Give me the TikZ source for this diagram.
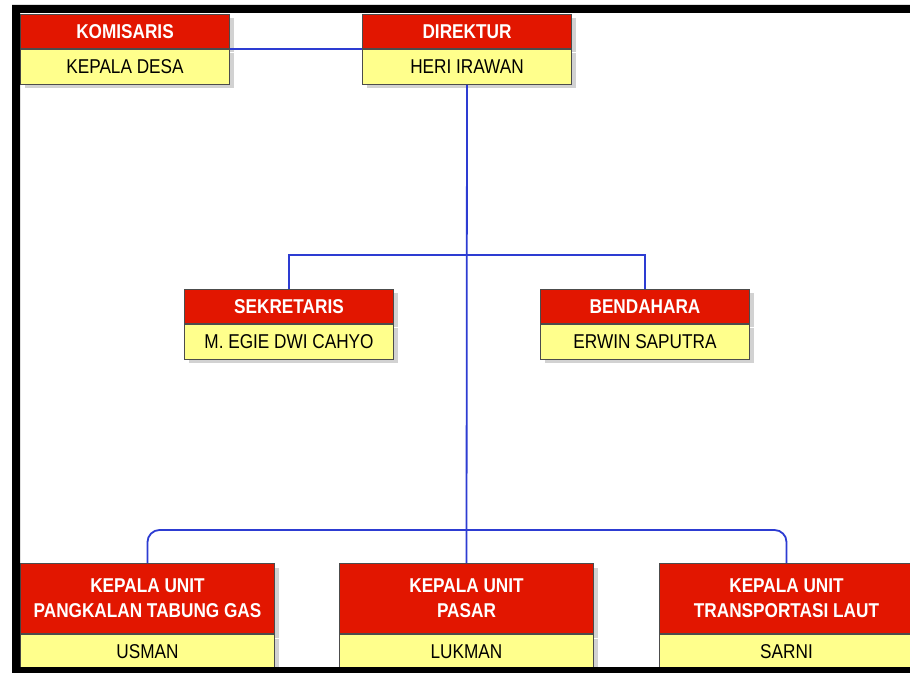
\documentclass[tikz,border=0pt]{standalone}
\usepackage{fontspec}
\setmainfont{Liberation Sans}[FakeStretch=0.86]
\usetikzlibrary{positioning,shadows}
\definecolor{merah}{RGB}{226,22,0}
\definecolor{kuning}{RGB}{255,255,140}
\definecolor{biru}{RGB}{45,60,210}
\tikzset{jabatan/.style={draw=black!70, line width=0.5pt, fill=merah, text=white, align=center,
    font=\fontsize{10}{12.5}\selectfont\bfseries, inner sep=0pt, minimum width=104.5pt,
    minimum height=17pt, anchor=north west,
    drop shadow={shadow xshift=2pt, shadow yshift=-2pt, fill=black!35}},
  nama/.style={jabatan, fill=kuning, text=black, font=\fontsize{10}{12}\selectfont, minimum height=17.5pt},
  unit/.style={jabatan, minimum width=127pt, minimum height=35pt},
  namaunit/.style={nama, minimum width=127pt, minimum height=17pt},
  garis/.style={draw=biru, line width=0.9pt}}

\begin{document}
\begin{tikzpicture}[x=0.5pt, y=-0.5pt]
\useasboundingbox (0,0) rectangle (910,673);
\fill[white] (20,13) rectangle (916,667);

\node[jabatan] (kom) at (20,14) {KOMISARIS};
\node[nama, below=0pt of kom] (desa) {KEPALA DESA};
\node[jabatan] (dir) at (362,14) {DIREKTUR};
\node[nama, below=0pt of dir] (heri) {HERI IRAWAN};

\node[jabatan] (sek) at (184,289) {SEKRETARIS};
\node[nama, below=0pt of sek] (egie) {M. EGIE DWI CAHYO};
\node[jabatan] (ben) at (540,289) {BENDAHARA};
\node[nama, below=0pt of ben] (erwin) {ERWIN SAPUTRA};

\node[unit] (gas) at (20,563) {KEPALA UNIT\\PANGKALAN TABUNG GAS};
\node[namaunit, below=0pt of gas] (usman) {USMAN};
\node[unit] (pasar) at (339,563) {KEPALA UNIT\\PASAR};
\node[namaunit, below=0pt of pasar] (lukman) {LUKMAN};
\node[unit] (laut) at (659,563) {KEPALA UNIT\\TRANSPORTASI LAUT};
\node[namaunit, below=0pt of laut] (sarni) {SARNI};

\coordinate (cabangA) at (466,255);
\coordinate (cabangB) at (466,530);
\draw[garis] (kom.south east) -- (dir.south west);
\draw[garis] (heri.south) -- (pasar.north);
\draw[garis] (sek.north) |- (cabangA) -| (ben.north);
\draw[garis, rounded corners=6pt] (gas.north) |- (cabangB) -| (laut.north);

\fill[black, even odd rule] (12,5) rectangle (920,680) (20,13) rectangle (916,667);
\end{tikzpicture}
\end{document}
